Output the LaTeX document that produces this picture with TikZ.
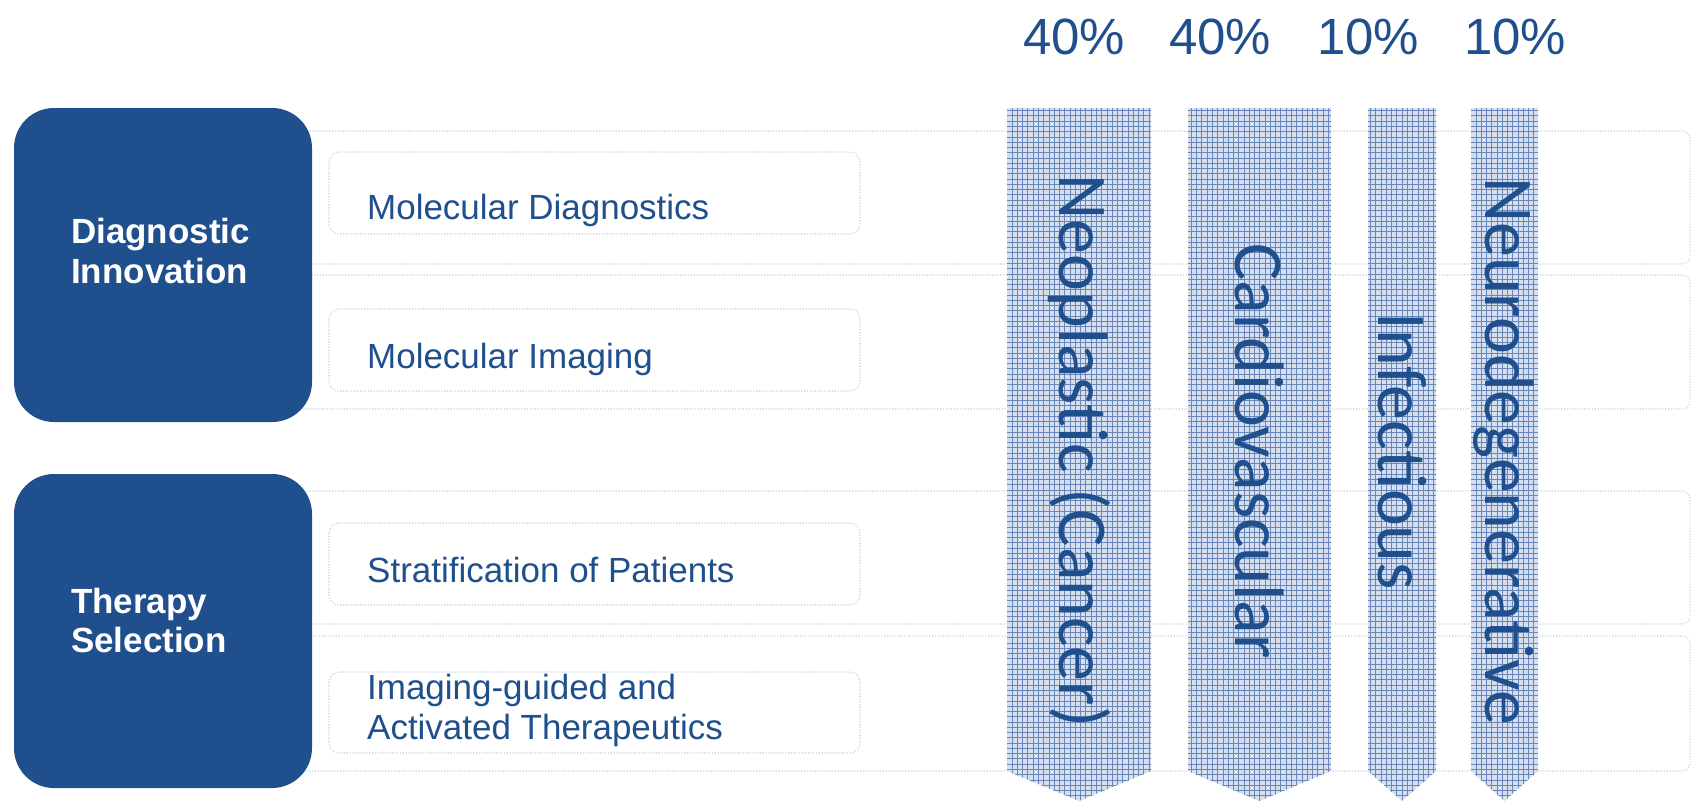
\documentclass[tikz,border=0pt]{standalone}
\usepackage{fontspec}
\setmainfont{Liberation Sans}
\newfontfamily\calfont{Carlito}
\usetikzlibrary{patterns}
\definecolor{navy}{RGB}{31,79,140}
\definecolor{dotline}{RGB}{190,202,222}
\definecolor{hatchbg}{RGB}{214,223,238}
\definecolor{hatchln}{RGB}{104,134,186}

\begin{document}
\begin{tikzpicture}[x=0.02cm,y=-0.02cm,
    bigbox/.style={fill=navy,rounded corners=0.8cm},
    band/.style={draw=dotline,densely dotted,line width=0.6pt,rounded corners=0.16cm},
    itembox/.style={draw=dotline,densely dotted,line width=0.6pt,fill=white,rounded corners=0.2cm},
    boxtext/.style={text=white,anchor=west,align=left,font=\bfseries\fontsize{19.9}{22.2}\selectfont},
    itemtext/.style={text=navy,anchor=west,align=left,font=\fontsize{19.9}{22.8}\selectfont},
    pct/.style={text=navy,font=\fontsize{29}{34}\selectfont},
    coltext/.style={text=navy,rotate=-90,font=\calfont\fontsize{39.8}{44}\selectfont},
    column/.style={preaction={fill=hatchbg},pattern=grid,pattern color=hatchln}]
    \useasboundingbox (0,0) rectangle (1692,801);
    % rows
    \foreach \t/\b in {131/264,275/409,491/624,636/771}
        \draw[band] (250,\t) rectangle (1690,\b);
    \fill[bigbox] (14,108) rectangle (312,422);
    \fill[bigbox] (14,474) rectangle (312,788);
    \node[boxtext] (diag) at (65,251) {Diagnostic\\Innovation};
    \node[boxtext] (therapy) at (65,620) {Therapy\\Selection};
    % items
    \foreach \t/\b in {152/234,309/391,523/605,672/753}
        \draw[itembox] (329,\t) rectangle (860,\b);
    \node[itemtext] (molDiag) at (361,210) {Molecular Diagnostics};
    \node[itemtext] (molImg) at (361,359) {Molecular Imaging};
    \node[itemtext] (strat) at (361,570) {Stratification of Patients};
    \node[itemtext] (guided) at (361,710) {Imaging-guided and\\Activated Therapeutics};
    % disease columns
    \foreach \l/\r in {1007/1151,1188/1331,1368/1436,1471/1538}
        \path[column] (\l,108) -- (\r,108) -- (\r,771) -- ({(\l+\r)/2},801) -- (\l,771) -- cycle;
    \node[coltext] (neo) at (1079,451) {Neoplastic (Cancer)};
    \node[coltext] (cardio) at (1259,451) {Cardiovascular};
    \node[coltext] (infect) at (1402,451) {Infectious};
    \node[coltext] (neuro) at (1504,451) {Neurodegenerative};
    \node[pct] (pNeo) at (1074,37) {40\%};
    \node[pct] (pCardio) at (1220,37) {40\%};
    \node[pct] (pInfect) at (1368,37) {10\%};
    \node[pct] (pNeuro) at (1515,37) {10\%};
\end{tikzpicture}
\end{document}
